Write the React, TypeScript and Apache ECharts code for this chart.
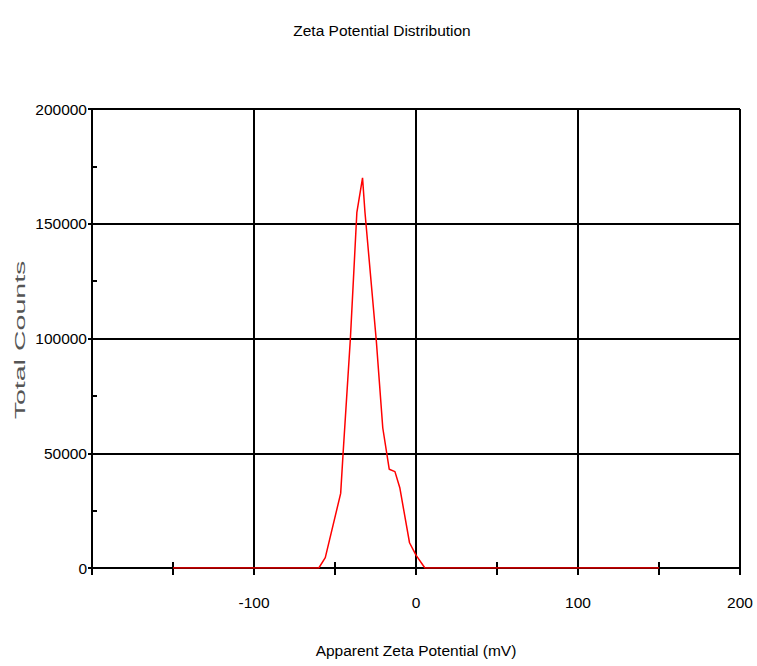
import React, { useEffect, useRef } from "react";
import * as echarts from "echarts";

const potentials = [-150, -60, -56, -46.5, -45, -40.5, -36.5, -33, -31.5, -24.5, -20.5, -16.5, -13, -10, -4, 0, 5.5, 150];
const counts = [0, 0, 4500, 32500, 50000, 100000, 155000, 170000, 155000, 99000, 61000, 43000, 42000, 35000, 11000, 5600, 0, 0];
const xTicks = { min: -200, max: 200, interval: 100 };
const yTicks = { min: 0, max: 200000, interval: 50000 };
const titleText = "Zeta Potential Distribution";
const xName = "Apparent Zeta Potential (mV)";
const yName = "Total Counts";

const FONT = "'Liberation Sans', Arial, sans-serif";
const FS = 15.5;

export default function App() {
  const ref = useRef<HTMLDivElement>(null);
  useEffect(() => {
    if (!ref.current) return;
    const chart = echarts.init(ref.current, undefined, { renderer: "svg" });
    const data = potentials.map((x, i) => [x, counts[i]]);
    const baseX = {
      type: "value" as const,
      min: xTicks.min,
      max: xTicks.max,
      interval: xTicks.interval,
    };
    const baseY = {
      type: "value" as const,
      min: yTicks.min,
      max: yTicks.max,
      interval: yTicks.interval,
    };
    chart.setOption({
      animation: false,
      backgroundColor: "#ffffff",
      title: {
        text: titleText,
        left: 377,
        textAlign: "center",
        top: 17,
        textStyle: { fontFamily: FONT, fontSize: FS, fontWeight: "normal", color: "#000" },
      },
      grid: { left: 92, right: 17, top: 109, bottom: 98 },
      xAxis: [
        {
          ...baseX,
          name: xName,
          nameLocation: "middle",
          nameGap: 74,
          nameTextStyle: { fontFamily: FONT, fontSize: FS, color: "#000" },
          axisLine: { show: true, lineStyle: { color: "#000", width: 2 } },
          axisTick: { show: true, length: 7, lineStyle: { color: "#000", width: 2 } },
          minorTick: { show: true, splitNumber: 2, length: 7, lineStyle: { color: "#000", width: 2 } },
          axisLabel: {
            fontFamily: FONT,
            fontSize: FS,
            color: "#000",
            margin: 26,
            showMinLabel: false,
            formatter: (v: number) => String(v),
          },
          splitLine: { show: true, lineStyle: { color: "#000", width: 2 } },
        },
        {
          ...baseX,
          position: "bottom",
          axisLine: { show: false, onZero: false },
          axisTick: { show: false, inside: true },
          minorTick: { show: true, splitNumber: 2, length: 6, lineStyle: { color: "#000", width: 2 } },
          axisLabel: { show: false },
          splitLine: { show: false },
        },
      ],
      yAxis: [
        {
          ...baseY,
          axisLine: { show: true, onZero: false, lineStyle: { color: "#000", width: 2 } },
          axisTick: { show: true, length: 4, lineStyle: { color: "#000", width: 2 } },
          minorTick: { show: false },
          axisLabel: {
            fontFamily: FONT,
            fontSize: FS,
            color: "#000",
            margin: 5,
            formatter: (v: number) => String(v),
          },
          splitLine: { show: true, lineStyle: { color: "#000", width: 2 } },
        },
        {
          ...baseY,
          position: "left",
          axisLine: { show: false, onZero: false },
          axisTick: { show: false, inside: true },
          minorTick: { show: true, splitNumber: 2, length: 5, lineStyle: { color: "#000", width: 2 } },
          axisLabel: { show: false },
          splitLine: { show: false },
        },
      ],
      graphic: [
        {
          type: "text",
          x: 20,
          y: 340,
          rotation: Math.PI / 2,
          scaleX: 2.04,
          scaleY: 1,
          style: {
            text: yName,
            fontFamily: FONT,
            fontSize: 14,
            fill: "#555",
            align: "center",
            verticalAlign: "middle",
          },
        },
      ],
      series: [
        {
          type: "line",
          xAxisIndex: 0,
          yAxisIndex: 0,
          data,
          showSymbol: false,
          symbol: "none",
          lineStyle: { color: "#ff0000", width: 1.5 },
          z: 5,
        },
      ],
    });
    return () => chart.dispose();
  }, []);
  return (
    <div
      ref={ref}
      style={{ position: "fixed", left: 0, top: 0, width: 757, height: 666 }}
    />
  );
}
